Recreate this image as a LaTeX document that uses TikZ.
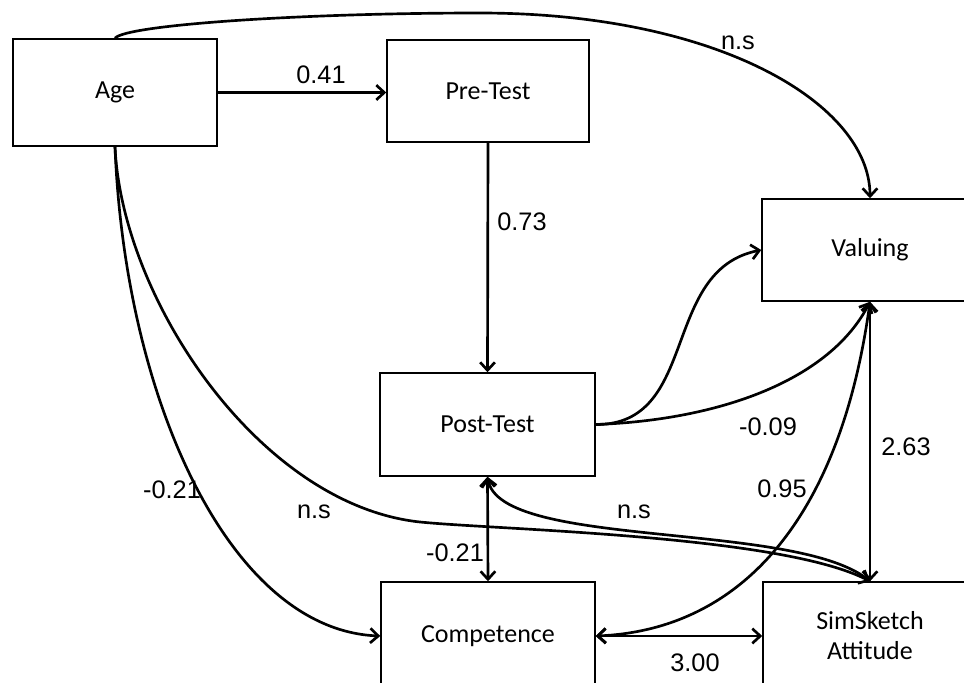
\documentclass[tikz,border=0pt]{standalone}
\usepackage{fontspec}
\setmainfont{Carlito}
\newfontfamily\numfont{Liberation Sans}
\usetikzlibrary{arrows.meta}
\tikzset{
	varbox/.style={
		draw, line width=1.1pt, align=center, inner sep=0pt,
		font=\fontsize{19.5}{22.5}\selectfont},
	link/.style={
		line width=2pt,
		-{Straight Barb[length=6pt,width=11pt]}},
	twoway/.style={
		line width=2pt,
		{Straight Barb[length=6pt,width=11pt]}-{Straight Barb[length=6pt,width=11pt]}},
	coef/.style={
		inner sep=0pt,
		font=\numfont\fontsize{19}{22}\selectfont}
}
\begin{document}
\begin{tikzpicture}[x=0.75pt,y=0.75pt,yscale=-1,xscale=1]
%set diagram to 964 x 682, boxes at the edge are cut
\useasboundingbox (0,0) rectangle (964,682);
\clip (0,0) rectangle (964,682);

\node[varbox, minimum width=153pt, minimum height=80.25pt] (age) at (115,92.5) {Age};
\node[varbox, minimum width=151.5pt, minimum height=76.5pt] (pre) at (488,91) {Pre-Test};
\node[varbox, minimum width=162pt, minimum height=76.5pt] (val) at (870,250) {Valuing};
\node[varbox, minimum width=161.25pt, minimum height=77.25pt] (post) at (487.5,424.5) {Post-Test};
\node[varbox, minimum width=160.5pt, minimum height=81pt] (comp) at (488,636) {Competence};
\node[varbox, minimum width=160.5pt, minimum height=81pt] (sim) at (870,636) {SimSketch\\Attitude};

\coordinate (topbend) at (480,13);
\coordinate (lowbend) at (420,522);

\draw[link] (age.east) -- (age.east -| pre.west);
\draw[link] (pre.south) -- (post.north);
\draw[link] (age.north) .. controls (125,25) and (300,13) .. (topbend) .. controls (720,13) and (870,105) .. (val.north);

\draw[link] (post.east) .. controls (700,425) and (660,270) .. (val.west);
\draw[link] (post.east) .. controls (720,420) and (830,380) .. (val.south);
\draw[twoway] (val.south) -- (sim.north);
\draw[twoway] (comp.east) .. controls (740,630) and (840,520) .. (val.south);
\draw[twoway] (comp.east) -- (sim.west);
\draw[twoway] (post.south) -- (comp.north);
\draw[link] (sim.north) .. controls (800,520) and (500,550) .. (post.south);

\draw[link] (age.south) .. controls (125,400) and (230,630) .. (comp.west);
\draw[link] (age.south) .. controls (122,300) and (260,505) .. (lowbend) .. controls (500,530) and (780,535) .. (sim.north);


\node[coef] (l041) at (321,75) {0.41};
\node[coef] (l073) at (522,222) {0.73};
\node[coef] (lnsa) at (738,43) {n.s};
\node[coef] (l009) at (768,427) {-0.09};
\node[coef] (l263) at (906,447) {2.63};
\node[coef] (l095) at (782,489) {0.95};
\node[coef] (lnsb) at (634,512) {n.s};
\node[coef] (l021b) at (455,553) {-0.21};
\node[coef] (l021a) at (172,490) {-0.21};
\node[coef] (lnsc) at (314,512) {n.s};
\node[coef] (l300) at (695,663) {3.00};

\end{tikzpicture}
\end{document}
